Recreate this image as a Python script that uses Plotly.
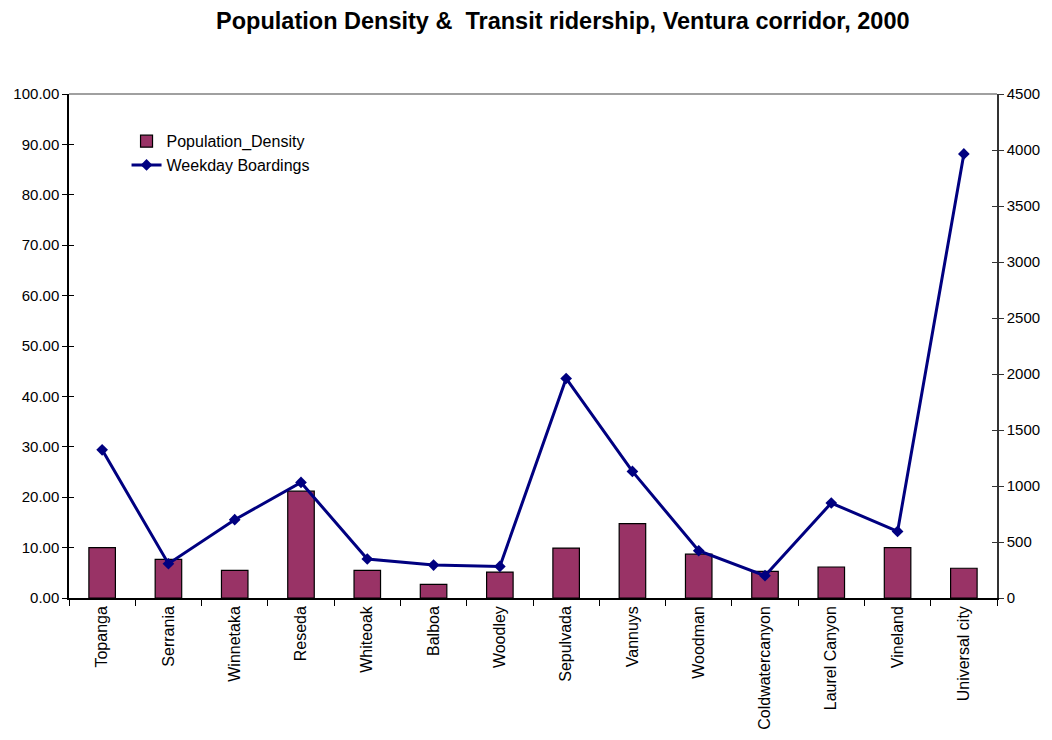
import plotly.graph_objects as go

# Stations along the Ventura corridor
stations = ["Topanga", "Serrania", "Winnetaka", "Reseda", "Whiteoak", "Balboa", "Woodley",
            "Sepulvada", "Vannuys", "Woodman", "Coldwatercanyon", "Laurel Canyon", "Vineland",
            "Universal city"]

# Population density (left axis)
population_density = [10.0, 7.65, 5.5, 21.2, 5.5, 2.7, 5.15, 9.9, 14.75, 8.7, 5.3, 6.15, 10.0, 5.9]

# Weekday boardings (right axis)
weekday_boardings = [1323, 306, 699, 1032, 348, 294, 282, 1960, 1130, 422, 199, 848, 594, 3965]

left_ticks = [i * 10 for i in range(11)]
right_ticks = [i * 500 for i in range(10)]

font_family = "Liberation Sans, Arial, sans-serif"
n = len(stations)

fig = go.Figure()

fig.add_trace(go.Bar(
    x=stations, y=population_density, name="Population_Density",
    marker=dict(color="#993366", line=dict(color="#000000", width=1.2)),
    yaxis="y",
))

fig.add_trace(go.Scatter(
    x=stations, y=weekday_boardings, name="Weekday Boardings",
    mode="lines+markers",
    line=dict(color="#000080", width=3),
    marker=dict(symbol="diamond", size=9, color="#000080"),
    yaxis="y2",
))

fig.update_layout(
    width=1052, height=740,
    margin=dict(l=69, r=55, t=94, b=142),
    paper_bgcolor="white", plot_bgcolor="white",
    font=dict(family=font_family, size=15, color="#000000"),
    title=dict(
        text="<b>Population Density &\u00a0 Transit ridership, Ventura corridor, 2000</b>",
        x=0.535, xanchor="center", y=0.972, yanchor="middle",
        font=dict(family=font_family, size=23.5, color="#000000"),
    ),
    bargap=0.6,
    showlegend=True,
    legend=dict(
        x=0.062, y=0.94, xanchor="left", yanchor="top",
        bgcolor="rgba(0,0,0,0)", font=dict(size=16),
        tracegroupgap=2, itemwidth=30,
    ),
    xaxis=dict(
        type="category", range=[-0.5, n - 0.5], tickangle=-90, tickson="boundaries",
        ticks="outside", ticklen=6, tickcolor="#000000",
        showline=True, linecolor="#000000", linewidth=1.5,
        showgrid=False, zeroline=False, mirror=False, automargin=False,
        tickfont=dict(size=16),
    ),
    yaxis=dict(
        range=[0, 100], tickvals=left_ticks, tickformat=".2f",
        ticks="outside", ticklen=5, tickcolor="#000000",
        showline=True, linecolor="#000000", linewidth=1.5, automargin=False,
        showgrid=False, zeroline=False, tickfont=dict(size=15),
    ),
    yaxis2=dict(
        range=[0, 4500], tickvals=right_ticks, overlaying="y", side="right",
        ticks="outside", ticklen=5, tickcolor="#333333", automargin=False,
        showline=True, linecolor="#333333", linewidth=1.5,
        showgrid=False, zeroline=False, tickfont=dict(size=15),
    ),
    # tick marks crossing into the plot on both value axes
    yaxis3=dict(
        range=[0, 100], tickvals=left_ticks, overlaying="y", side="left",
        ticks="inside", ticklen=5, tickcolor="#000000", showticklabels=False,
        showline=False, showgrid=False, zeroline=False, automargin=False,
    ),
    yaxis4=dict(
        range=[0, 4500], tickvals=right_ticks, overlaying="y", side="right",
        ticks="inside", ticklen=5, tickcolor="#333333", showticklabels=False,
        showline=False, showgrid=False, zeroline=False, automargin=False,
    ),
    shapes=[dict(
        type="line", xref="paper", yref="paper", x0=0, x1=1, y0=1, y1=1,
        line=dict(color="#808080", width=1.5),
    )],
)

# invisible helpers so the extra tick axes are drawn
fig.add_trace(go.Scatter(x=[stations[0]], y=[0], yaxis="y3", mode="markers",
                         marker=dict(opacity=0), showlegend=False, hoverinfo="skip"))
fig.add_trace(go.Scatter(x=[stations[0]], y=[0], yaxis="y4", mode="markers",
                         marker=dict(opacity=0), showlegend=False, hoverinfo="skip"))

fig.write_html("out.html")
